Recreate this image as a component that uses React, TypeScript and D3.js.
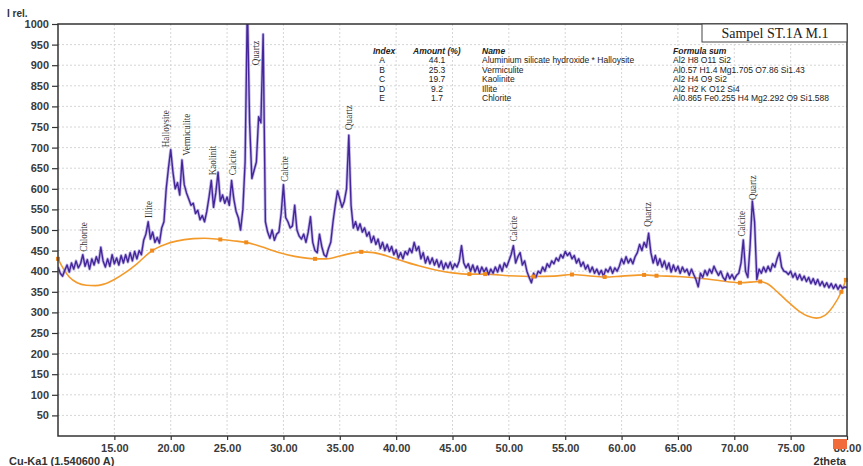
import React, { useEffect, useRef } from 'react';
import * as d3 from 'd3';

// XRD scan: intensity every 0.2 deg, starting at 10.0 deg 2theta
const scanStart = 10;
const scanStep = 0.2;
const intensity = [
  410, 395, 388, 402, 415, 398, 420, 405, 425, 408, // 10
  418, 440, 412, 428, 405, 430, 415, 435, 420, 458, // 12
  425, 410, 430, 412, 440, 418, 432, 415, 438, 420, // 14
  440, 422, 445, 425, 448, 430, 450, 440, 475, 490, // 16
  520, 478, 495, 470, 482, 468, 505, 520, 600, 650, // 18
  695, 640, 600, 615, 585, 670, 610, 590, 575, 560, // 20
  565, 540, 548, 525, 535, 520, 545, 580, 620, 555, // 22
  590, 640, 570, 585, 565, 580, 560, 620, 575, 545, // 24
  530, 500, 550, 665, 1050, 760, 625, 645, 665, 775, // 26
  760, 975, 520, 495, 480, 500, 475, 490, 495, 540, // 28
  610, 530, 520, 505, 510, 560, 500, 485, 478, 490, // 30
  470, 495, 532, 470, 450, 445, 490, 460, 440, 435, // 32
  455, 470, 520, 560, 595, 575, 555, 570, 600, 730, // 34
  560, 505, 520, 500, 515, 495, 505, 485, 495, 470, // 36
  485, 465, 478, 455, 470, 450, 465, 448, 460, 440, // 38
  452, 432, 445, 430, 448, 440, 455, 445, 470, 450, // 40
  460, 430, 445, 420, 435, 418, 432, 415, 428, 410, // 42
  425, 405, 420, 408, 422, 405, 418, 410, 425, 462, // 44
  420, 408, 418, 400, 415, 398, 412, 395, 410, 398, // 46
  408, 392, 405, 395, 410, 398, 415, 400, 420, 410, // 48
  425, 440, 462, 420, 435, 445, 415, 425, 400, 385, // 50
  372, 395, 385, 400, 395, 410, 400, 418, 410, 425, // 52
  418, 432, 425, 440, 432, 448, 438, 445, 430, 438, // 54
  420, 430, 412, 422, 405, 415, 398, 410, 395, 405, // 56
  392, 402, 388, 405, 398, 410, 395, 408, 400, 412, // 58
  430, 418, 435, 420, 430, 418, 435, 445, 465, 450, // 60
  470, 458, 492, 445, 420, 438, 415, 430, 410, 425, // 62
  405, 420, 398, 415, 400, 412, 395, 410, 398, 405, // 64
  390, 405, 392, 380, 362, 395, 385, 402, 390, 405, // 66
  395, 412, 400, 390, 400, 385, 378, 395, 382, 392, // 68
  380, 390, 395, 420, 476, 400, 385, 460, 570, 520, // 70
  380, 405, 395, 410, 398, 412, 400, 418, 410, 430, // 72
  445, 410, 400, 398, 392, 400, 385, 395, 380, 392, // 74
  378, 388, 375, 385, 370, 382, 368, 380, 365, 375, // 76
  362, 372, 360, 370, 358, 368, 356, 366, 358, 362, // 78
  360,
];

// fitted background (orange)
const bgAngle = [10.0, 10.5, 11.0, 11.7, 12.5, 13.3, 14.0, 15.0, 16.0, 17.0, 18.35, 19.5, 20.5, 22.0, 23.0, 24.4, 25.5, 26.7, 28.0, 29.5, 31.0, 32.8, 33.8, 35.0, 36.9, 38.0, 40.3, 42.0, 43.5, 45.0, 46.5, 47.9, 50.0, 52.2, 54.0, 55.6, 57.0, 58.5, 60.0, 62.0, 63.1, 65.0, 66.9, 68.5, 70.5, 72.3, 72.9, 74.0, 74.6, 75.8, 76.5, 77.3, 78.0, 78.75, 79.5, 79.9];
const bgValue = [430, 405, 386, 372, 366, 365, 368, 380, 397, 418, 450, 465, 473, 479, 480, 477, 474, 470, 460, 446, 436, 430, 430, 437, 447, 445, 427, 413, 403, 396, 393, 393, 389, 387, 388, 392, 389, 386, 388, 391, 389, 387, 383, 378, 372, 375, 370, 345, 330, 302, 291, 286, 292, 314, 350, 379];
const bgMarkers = [10.0, 18.35, 24.4, 26.7, 32.8, 36.9, 46.5, 47.9, 52.2, 55.6, 58.5, 62.0, 63.1, 70.5, 72.3, 79.5, 79.9];

// peak annotations: name, angle, intensity at the foot of the label
const peakNames = ['Chlorite', 'Illite', 'Halloysite', 'Vermiculite', 'Kaolinit', 'Calcite', 'Quartz', 'Calcite', 'Quartz', 'Calcite', 'Quartz', 'Calcite', 'Quartz'];
const peakAngle = [12.23, 18.0, 19.5, 21.37, 23.64, 25.42, 27.48, 30.05, 35.75, 50.38, 62.3, 70.63, 71.57];
const peakFoot = [447, 529, 701, 680, 633, 633, 900, 617, 743, 472, 508, 484, 573];

const yTicks = [50, 100, 150, 200, 250, 300, 350, 400, 450, 500, 550, 600, 650, 700, 750, 800, 850, 900, 950, 1000];
const xTicks = [15, 20, 25, 30, 35, 40, 45, 50, 55, 60, 65, 70, 75, 80];

const tableIndex = ['A', 'B', 'C', 'D', 'E'];
const tableAmount = ['44.1', '25.3', '19.7', '9.2', '1.7'];
const tableName = ['Aluminium silicate hydroxide * Halloysite', 'Vermiculite', 'Kaolinite', 'Illite', 'Chlorite'];
const tableFormula = ['Al2 H8 O11 Si2', 'Al0.57 H1.4 Mg1.705 O7.86 Si1.43', 'Al2 H4 O9 Si2', 'Al2 H2 K O12 Si4', 'Al0.865 Fe0.255 H4 Mg2.292 O9 Si1.588'];

const SANS = '"Liberation Sans", Arial, sans-serif';
const SERIF = '"Liberation Serif", "Times New Roman", serif';

export default function App() {
  const svgRef = useRef<SVGSVGElement>(null);

  useEffect(() => {
    if (!svgRef.current) return;
    const svg = d3.select(svgRef.current);
    svg.selectAll('*').remove();

    const plot = { left: 58, right: 847, top: 24, bottom: 436 };

    const x = d3.scaleLinear().domain([10, 80]).range([plot.left, plot.right]);
    const y = d3.scaleLinear().domain([0, 1000]).range([plot.bottom, plot.top]);

    svg.append('defs')
      .append('clipPath')
      .attr('id', 'plotClip')
      .append('rect')
      .attr('x', plot.left)
      .attr('y', plot.top)
      .attr('width', plot.right - plot.left)
      .attr('height', plot.bottom - plot.top);

    // grid
    const grid = svg.append('g').attr('stroke', '#d6d6d6').attr('stroke-dasharray', '2,2');
    grid.selectAll('line.h')
      .data(yTicks.slice(0, -1))
      .enter()
      .append('line')
      .attr('x1', plot.left)
      .attr('x2', plot.right)
      .attr('y1', (d) => y(d))
      .attr('y2', (d) => y(d));
    grid.selectAll('line.v')
      .data(xTicks.slice(0, -1))
      .enter()
      .append('line')
      .attr('y1', plot.top)
      .attr('y2', plot.bottom)
      .attr('x1', (d) => x(d))
      .attr('x2', (d) => x(d));

    // y axis
    const yAxis = svg.append('g')
      .attr('transform', 'translate(' + plot.left + ',0)')
      .call(d3.axisLeft(y).tickValues(yTicks).tickFormat(d3.format('d')).tickSize(6).tickPadding(3).tickSizeOuter(0));
    yAxis.select('.domain').remove();
    yAxis.selectAll('line').attr('stroke', '#333').attr('stroke-width', 1.2);
    yAxis.selectAll('text')
      .style('font-family', SANS)
      .style('font-size', '11px')
      .style('font-weight', 'bold')
      .attr('fill', '#3a3a3a');

    // x axis
    const xAxis = svg.append('g')
      .attr('transform', 'translate(0,' + plot.bottom + ')')
      .call(d3.axisBottom(x).tickValues(xTicks).tickFormat(d3.format('.2f')).tickSize(4).tickPadding(4).tickSizeOuter(0));
    xAxis.select('.domain').remove();
    xAxis.selectAll('line').attr('stroke', '#333').attr('stroke-width', 1.2);
    xAxis.selectAll('text')
      .style('font-family', SANS)
      .style('font-size', '11px')
      .style('font-weight', 'bold')
      .attr('fill', '#3a3a3a');

    // background curve
    const bgData = bgAngle.map((a, i) => [a, bgValue[i]] as [number, number]);
    const bgLine = d3.line<[number, number]>()
      .x((d) => x(d[0]))
      .y((d) => y(d[1]))
      .curve(d3.curveMonotoneX);
    svg.append('path')
      .datum(bgData)
      .attr('clip-path', 'url(#plotClip)')
      .attr('fill', 'none')
      .attr('stroke', '#f39a2b')
      .attr('stroke-width', 1.6)
      .attr('d', bgLine);

    // scan trace: soft halo underneath + dark line
    const scan = intensity.map((v, i) => [scanStart + i * scanStep, v] as [number, number]);
    const scanLine = d3.line<[number, number]>()
      .x((d) => x(d[0]))
      .y((d) => y(d[1]));
    svg.append('path')
      .datum(scan)
      .attr('clip-path', 'url(#plotClip)')
      .attr('fill', 'none')
      .attr('stroke', '#8c7dd2')
      .attr('stroke-width', 3)
      .attr('stroke-opacity', 0.55)
      .attr('stroke-linejoin', 'round')
      .attr('d', scanLine);
    svg.append('path')
      .datum(scan)
      .attr('clip-path', 'url(#plotClip)')
      .attr('fill', 'none')
      .attr('stroke', '#45269a')
      .attr('stroke-width', 1.4)
      .attr('stroke-linejoin', 'round')
      .attr('d', scanLine);

    // background markers (on top of trace)
    const bgAt = (a: number) => {
      const i = d3.bisectLeft(bgAngle, a);
      if (bgAngle[i] === a) return bgValue[i];
      const a0 = bgAngle[i - 1], a1 = bgAngle[i];
      return bgValue[i - 1] + (bgValue[i] - bgValue[i - 1]) * (a - a0) / (a1 - a0);
    };
    svg.append('g')
      .selectAll('rect')
      .data(bgMarkers)
      .enter()
      .append('rect')
      .attr('x', (d) => x(d) - 2)
      .attr('y', (d) => y(bgAt(d)) - 2)
      .attr('width', 4)
      .attr('height', 4)
      .attr('fill', '#f08a1c');

    // frame
    svg.append('rect')
      .attr('x', plot.left)
      .attr('y', plot.top)
      .attr('width', plot.right - plot.left)
      .attr('height', plot.bottom - plot.top)
      .attr('fill', 'none')
      .attr('stroke', '#333')
      .attr('stroke-width', 1.5);

    // peak labels (condensed serif, written upward from the peak)
    svg.append('g')
      .selectAll('text')
      .data(peakNames)
      .enter()
      .append('text')
      .attr('transform', (d, i) => 'translate(' + x(peakAngle[i]) + ',' + y(peakFoot[i]) + ') rotate(-90) scale(0.82,1)')
      .attr('dy', '0.35em')
      .attr('text-anchor', 'start')
      .style('font-family', SERIF)
      .style('font-size', '11px')
      .attr('fill', '#333')
      .text((d) => d);

    // title box
    svg.append('rect')
      .attr('x', 702)
      .attr('y', plot.top)
      .attr('width', plot.right - 702)
      .attr('height', 18)
      .attr('fill', 'white')
      .attr('stroke', '#444')
      .attr('stroke-width', 1);
    svg.append('text')
      .attr('x', 775)
      .attr('y', 38)
      .attr('text-anchor', 'middle')
      .style('font-family', SERIF)
      .style('font-size', '14px')
      .attr('fill', '#222')
      .text('Sampel ST.1A M.1');

    // phase table
    const table = svg.append('g')
      .style('font-family', SANS)
      .style('font-size', '8.5px')
      .attr('fill', '#222');
    const headers = [
      { t: 'Index', x: 373 },
      { t: 'Amount (%)', x: 413 },
      { t: 'Name', x: 482 },
      { t: 'Formula sum', x: 673 },
    ];
    table.selectAll('text.h')
      .data(headers)
      .enter()
      .append('text')
      .attr('x', (d) => d.x)
      .attr('y', 53.5)
      .style('font-weight', 'bold')
      .style('font-style', 'italic')
      .text((d) => d.t);
    const rowY = (i: number) => 63 + i * 9.5;
    tableIndex.forEach((idx, i) => {
      table.append('text').attr('x', 382).attr('y', rowY(i)).attr('text-anchor', 'middle').text(idx);
      table.append('text').attr('x', 437).attr('y', rowY(i)).attr('text-anchor', 'middle').text(tableAmount[i]);
      table.append('text').attr('x', 482).attr('y', rowY(i)).text(tableName[i]);
      table.append('text').attr('x', 673).attr('y', rowY(i)).text(tableFormula[i]);
    });

    // axis captions
    svg.append('text')
      .attr('x', 7)
      .attr('y', 17)
      .style('font-family', SANS)
      .style('font-size', '10px')
      .style('font-weight', 'bold')
      .attr('fill', '#333')
      .text('I rel.');
    svg.append('text')
      .attr('x', 9)
      .attr('y', 465)
      .style('font-family', SANS)
      .style('font-size', '11px')
      .style('font-weight', 'bold')
      .attr('fill', '#333')
      .text('Cu-Ka1 (1.540600 A)');
    svg.append('text')
      .attr('x', 846)
      .attr('y', 465)
      .attr('text-anchor', 'end')
      .style('font-family', SANS)
      .style('font-size', '11px')
      .style('font-weight', 'bold')
      .attr('fill', '#333')
      .text('2theta');

    // orange handle at the end of the axis
    svg.append('rect')
      .attr('x', 833)
      .attr('y', 439)
      .attr('width', 14)
      .attr('height', 10)
      .attr('fill', '#f26b3a');
  }, []);

  return (
    <svg
      ref={svgRef}
      width={863}
      height={466}
      style={{ position: 'absolute', left: 0, top: 0, background: 'white' }}
    />
  );
}
